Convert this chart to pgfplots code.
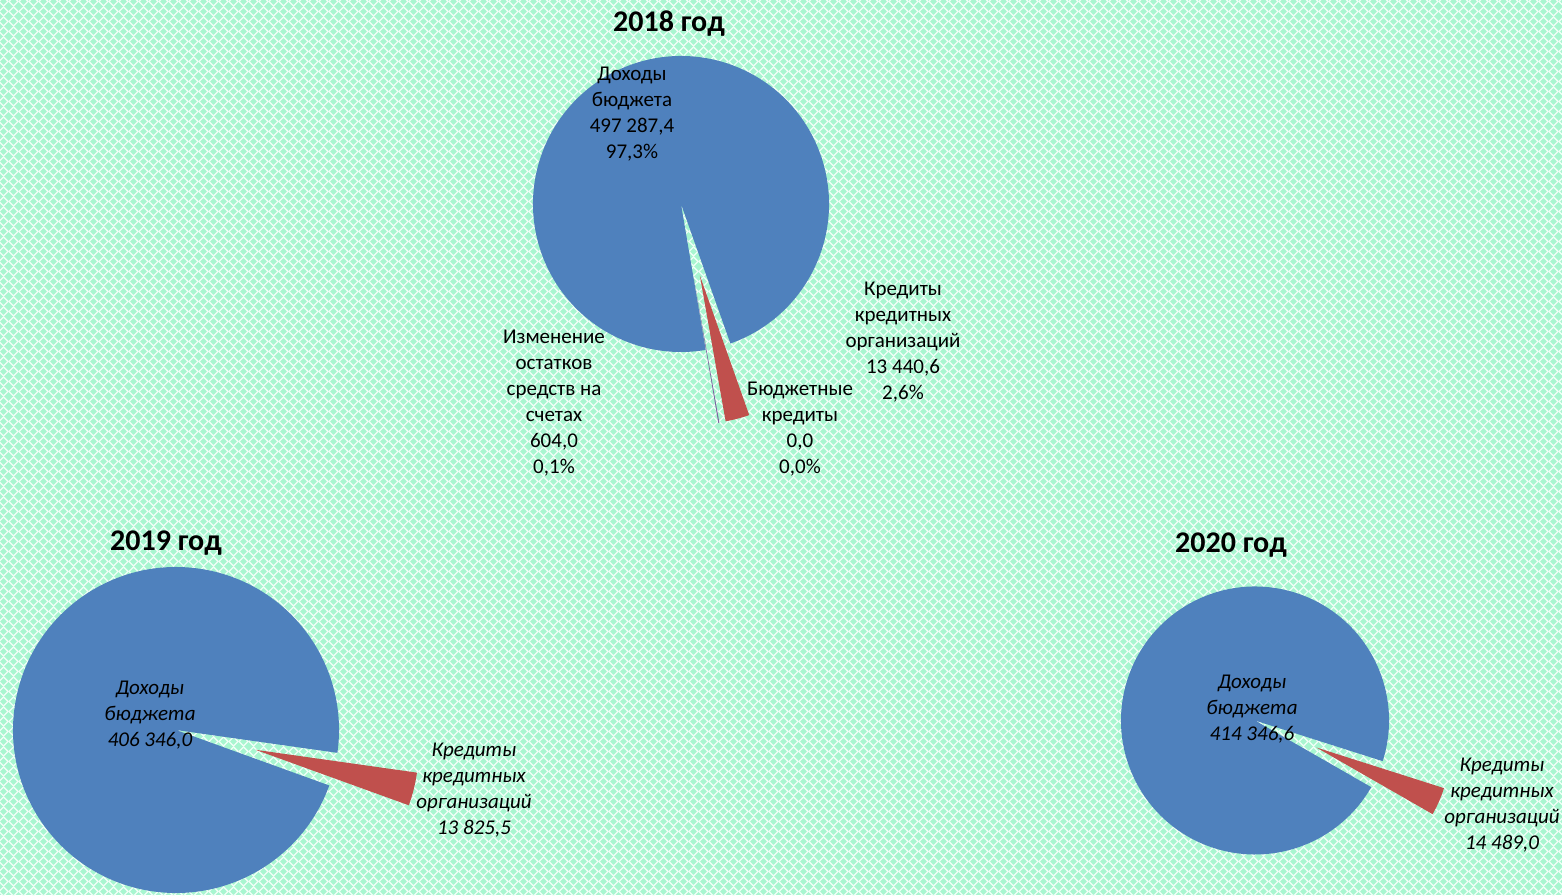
\documentclass[border=0pt]{standalone}
\usepackage{fontspec}
\setmainfont{Carlito}
\usepackage{pgfplots}
\usepackage{pgfplotstable}
\pgfplotsset{compat=1.18}
\usetikzlibrary{patterns.meta}
\definecolor{mint}{RGB}{168,246,208}
\definecolor{pieblue}{RGB}{79,129,189}
\definecolor{piered}{RGB}{192,80,77}
\definecolor{piegreen}{RGB}{155,187,89}
\definecolor{piepurple}{RGB}{128,100,162}

\tikzdeclarepattern{
  name=lattice,
  type=uncolored,
  bottom left={(0pt,0pt)}, top right={(5pt,5pt)},
  tile size={(5pt,5pt)},
  code={
    \pgfsetlinewidth{0.7pt}
    \pgfpathmoveto{\pgfpoint{2.5pt}{0pt}}
    \pgfpathlineto{\pgfpoint{5pt}{2.5pt}}
    \pgfpathlineto{\pgfpoint{2.5pt}{5pt}}
    \pgfpathlineto{\pgfpoint{0pt}{2.5pt}}
    \pgfpathclose
    \pgfusepath{stroke}
  }
}

% 2018
\pgfplotstableread{
name value
D 497287.4
K 13440.6
B 0.0
I 604.0
}\tabA
% 2019
\pgfplotstableread{
name value
D 406346.0
K 13825.5
}\tabB
% 2020
\pgfplotstableread{
name value
D 414346.6
K 14489.0
}\tabC

\newcommand\getv[3]{\pgfplotstablegetelem{#2}{value}\of#1\edef#3{\pgfplotsretval}}
\getv\tabA{0}\aD \getv\tabA{1}\aK \getv\tabA{2}\aB \getv\tabA{3}\aI
\getv\tabB{0}\bD \getv\tabB{1}\bK
\getv\tabC{0}\cD \getv\tabC{1}\cK
\edef\aT{\fpeval{\aD+\aK+\aB+\aI}}
\edef\bT{\fpeval{\bD+\bK}}
\edef\cT{\fpeval{\cD+\cK}}

% slice: cx, cy, r (axis units = px), from angle, to angle, explode (px), colour
\newcommand\slice[7]{%
  \edef\tmp{\noexpand\fill[#7] (axis cs:\fpeval{#1+#6*cosd((#4+#5)/2)},\fpeval{#2+#6*sind((#4+#5)/2)})
    -- ++(#4:\fpeval{#3/2}pt) arc[start angle=#4, end angle=#5, radius=\fpeval{#3/2}pt] -- cycle;}%
  \tmp}

% start angles (first slice, clockwise)
\def\aS{279.6}\def\bS{340.1}\def\cS{330.17}
\edef\aA{\fpeval{\aS-360*\aD/\aT}}
\edef\aB{\fpeval{\aS-360*(\aD+\aK)/\aT}}
\edef\aC{\fpeval{\aS-360*(\aD+\aK+0.0)/\aT}}
\edef\aE{\fpeval{\aS-360}}
\edef\bA{\fpeval{\bS-360*\bD/\bT}}
\edef\bE{\fpeval{\bS-360}}
\edef\cA{\fpeval{\cS-360*\cD/\cT}}
\edef\cE{\fpeval{\cS-360}}

\newcommand\lbl{\fontsize{10.5}{13}\selectfont}
\newcommand\ttl{\fontsize{15}{18}\selectfont\bfseries}

\begin{document}
\begin{tikzpicture}
\begin{axis}[
  width=781pt, height=447.5pt, scale only axis,
  xmin=0, xmax=1562, ymin=0, ymax=895,
  hide axis, clip=false]
\fill[mint] (axis cs:0,0) rectangle (axis cs:1562,895);
\fill[pattern=lattice, pattern color=white!85!mint] (axis cs:0,0) rectangle (axis cs:1562,895);
% 2018
\slice{681}{691}{148}{\aA}{\aS}{0}{pieblue}
\slice{681}{691}{148}{\aB}{\aA}{74}{piered}
\slice{681}{691}{148}{\aE}{\aC}{74}{piepurple}
% 2019
\slice{176}{165}{163}{\bA}{\bS}{0}{pieblue}
\slice{176}{165}{163}{\bE}{\bA}{82}{piered}
% 2020
\slice{1255}{174.5}{134}{\cA}{\cS}{0}{pieblue}
\slice{1255}{174.5}{134}{\cE}{\cA}{67}{piered}

% titles
\node[font=\ttl] at (axis cs:669,871) {2018 год};
\node[font=\ttl] at (axis cs:166,352) {2019 год};
\node[font=\ttl] at (axis cs:1231,350) {2020 год};

% labels 2018
\node[font=\lbl, align=center] at (axis cs:632,781) {Доходы\\бюджета\\497 287,4\\97,3\%};
\node[font=\lbl, align=center] at (axis cs:903,553) {Кредиты\\кредитных\\организаций\\13 440,6\\2,6\%};
\node[font=\lbl, align=center] at (axis cs:800,466) {Бюджетные\\кредиты\\0,0\\0,0\%};
\node[font=\lbl, align=center] at (axis cs:554,492) {Изменение\\остатков\\средств на\\счетах\\604,0\\0,1\%};
% labels 2019
\node[font=\lbl\itshape, align=center] at (axis cs:150,180) {Доходы\\бюджета\\406 346,0};
\node[font=\lbl\itshape, align=center] at (axis cs:474,105) {Кредиты\\кредитных\\организаций\\13 825,5};
% labels 2020
\node[font=\lbl\itshape, align=center] at (axis cs:1252,186) {Доходы\\бюджета\\414 346,6};
\node[font=\lbl\itshape, align=center] at (axis cs:1502,90) {Кредиты\\кредитных\\организаций\\14 489,0};
\end{axis}
\pgfresetboundingbox
\path[use as bounding box] (current axis.south west) rectangle (current axis.north east);
\end{tikzpicture}
\end{document}
